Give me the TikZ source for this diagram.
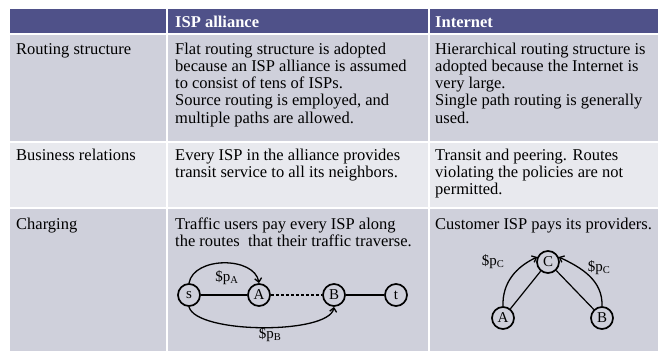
\documentclass[tikz,border=0pt]{standalone}
\usepackage{fontspec}
\setmainfont{Liberation Serif}
\usetikzlibrary{arrows.meta}
\definecolor{hdrblue}{HTML}{4F5189}
\definecolor{rowdark}{HTML}{CFD0DB}
\definecolor{rowlight}{HTML}{E8E9EE}

\begin{document}
\begin{tikzpicture}[x=1pt, y=1pt,
  txt/.style={anchor=north west, inner sep=0pt, align=left, font=\fontsize{16.5}{17.2}\selectfont},
  hdr/.style={txt, text=white, font=\fontsize{16.5}{17.2}\selectfont\bfseries},
  isp/.style={circle, draw, line width=1.7pt, minimum size=22pt, inner sep=0pt, font=\fontsize{15}{15}\selectfont},
  price/.style={inner sep=0pt, font=\fontsize{15}{15}\selectfont},
  link/.style={line width=1.2pt},
  pay/.style={line width=1.3pt, -{Straight Barb[length=4pt,width=7pt]}}]
\useasboundingbox (0,0) rectangle (658,351);
% table cells
\foreach \xa/\xb in {10/166, 168/428, 430/658} {
  \fill[hdrblue] (\xa,318) rectangle (\xb,342);
  \fill[rowdark] (\xa,210) rectangle (\xb,316);
  \fill[rowlight] (\xa,144) rectangle (\xb,208);
  \fill[rowdark] (\xa,0) rectangle (\xb,142);
}
% header
\node[hdr] (hdrisp) at (175,336) {\strut ISP alliance};
\node[hdr] (hdrnet) at (435,336) {\strut Internet};
% routing structure
\node[txt] (rtlabel) at (16,309) {\strut Routing structure};
\node[txt] (rtisp) at (175,309) {\strut Flat routing structure is adopted\\because an ISP alliance is assumed\\to consist of tens of ISPs.\\Source routing is employed, and\\multiple paths are allowed.};
\node[txt] (rtnet) at (435,309) {\strut Hierarchical routing structure is\\adopted because the Internet is\\very large.\\Single path routing is generally\\used.};
% business relations
\node[txt] (brlabel) at (16,203) {\strut Business relations};
\node[txt] (brisp) at (175,203) {\strut Every ISP in the alliance provides\\transit service to all its neighbors.};
\node[txt] (brnet) at (435,203) {\strut Transit and peering. Routes\\violating the policies are not\\permitted.};
% charging
\node[txt] (chlabel) at (16,134) {\strut Charging};
\node[txt] (chisp) at (175,134) {\strut Traffic users pay every ISP along\\the routes~ that their traffic traverse.};
\node[txt] (chnet) at (435,134) {\strut Customer ISP pays its providers.};

% alliance path
\node[isp] (s) at (189,56) {s};
\node[isp] (a) at (259,56) {A};
\node[isp] (b) at (334,56) {B};
\node[isp] (t) at (396,56) {t};
\draw[link] (s) -- (a);
\draw[link, dash pattern=on 3pt off 2pt] (a) -- (b);
\draw[link] (b) -- (t);
\draw[pay] (s.north) to[out=80, in=100] (a.north);
\draw[pay] (s.south) to[out=-75, in=-100, looseness=0.5] (b.south);
\node[price] (pa) at (227,73) {\$p\textsubscript{A}};
\node[price] (pb) at (270,16) {\$p\textsubscript{B}};

% provider hierarchy
\node[isp] (rc) at (548,89) {C};
\node[isp] (ra) at (503,33) {A};
\node[isp] (rb) at (602,33) {B};
\draw[link] (ra) -- (rc);
\draw[link] (rb) -- (rc);
\draw[pay] (ra.north) to[out=92, in=205] (rc.155);
\draw[pay] (rb.north) to[out=88, in=-25] (rc.25);
\node[price] (pcl) at (493,89) {\$p\textsubscript{C}};
\node[price] (pcr) at (599,83) {\$p\textsubscript{C}};
\end{tikzpicture}
\end{document}
